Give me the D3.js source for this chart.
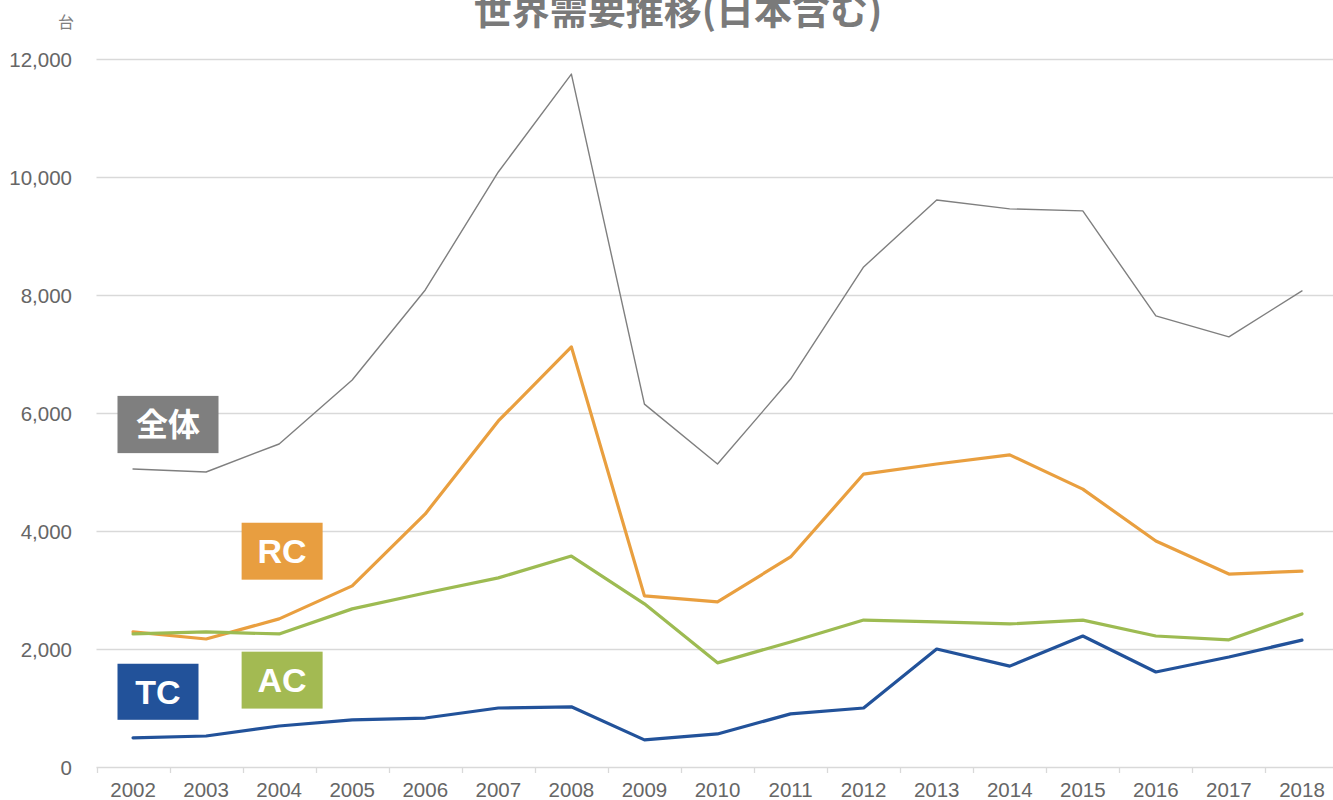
<!DOCTYPE html>
<html>
<head>
<meta charset="utf-8">
<script src="https://cdn.jsdelivr.net/npm/d3@7"></script>
<style>
  html, body { margin: 0; padding: 0; background: #fff; overflow: hidden; }
  svg { display: block; }
</style>
</head>
<body>
<svg id="chart" width="1333" height="800"></svg>
<script>
// ---- data ----
const years = ["2002","2003","2004","2005","2006","2007","2008","2009","2010","2011","2012","2013","2014","2015","2016","2017","2018"];
const totalValues = [5050, 5000, 5475, 6560, 8085, 10085, 11745, 6150, 5135, 6575, 8475, 9610, 9460, 9425, 7645, 7290, 8070];
const rcValues    = [2290, 2170, 2510, 3070, 4290, 5865, 7120, 2900, 2800, 3560, 4965, 5135, 5290, 4710, 3830, 3270, 3320];
const acValues    = [2255, 2290, 2255, 2680, 2950, 3205, 3575, 2765, 1765, 2120, 2490, 2460, 2425, 2490, 2220, 2155, 2595];
const tcValues    = [495, 525, 695, 800, 830, 1000, 1020, 460, 560, 900, 1000, 2000, 1710, 2220, 1610, 1865, 2150];
const yTicks = [0, 2000, 4000, 6000, 8000, 10000, 12000];
const titleText = "世界需要推移(日本含む)";
const unitText = "台";

const series = [
  { name: "全体", values: totalValues, color: "#7f7f7f", width: 1.4 },
  { name: "RC",   values: rcValues,    color: "#E99F3F", width: 3.2 },
  { name: "AC",   values: acValues,    color: "#9DBB52", width: 3.2 },
  { name: "TC",   values: tcValues,    color: "#22529A", width: 3.2 }
];
// annotation boxes: anchored in data space (year, value range)
const labels = [
  { text: "全体", color: "#7f7f7f", year: "2002", dx: 21, w: 101, top: 6290, bottom: 5320 },
  { text: "RC",   color: "#E89E40", year: "2004", dx: -1, w: 81,  top: 4140, bottom: 3175 },
  { text: "AC",   color: "#A3BA52", year: "2004", dx: -1, w: 81,  top: 1955, bottom: 990 },
  { text: "TC",   color: "#22529A", year: "2002", dx: 21, w: 81,  top: 1750, bottom: 800 }
];

// ---- layout ----
const svg = d3.select("#chart");
const plotLeft = 96.5, plotRight = 1338.5, plotTop = 59, plotBottom = 767;

const x = d3.scaleBand().domain(years).range([plotLeft, plotRight]).padding(0);
const y = d3.scaleLinear().domain([0, 12000]).range([plotBottom, plotTop]);
const cx = d => x(d) + x.bandwidth() / 2;

const fontLatin = "'Liberation Sans', Arial, 'Noto Sans CJK JP', sans-serif";
const fontCJK = "'Noto Sans CJK JP', 'Liberation Sans', sans-serif";

// gridlines
svg.append("g")
  .selectAll("line")
  .data(yTicks.filter(t => t > 0))
  .join("line")
  .attr("x1", plotLeft).attr("x2", plotRight)
  .attr("y1", d => Math.round(y(d)) + 0.5).attr("y2", d => Math.round(y(d)) + 0.5)
  .attr("stroke", "#d9d9d9").attr("stroke-width", 1.3);

// y axis labels
const yAxis = d3.axisLeft(y).tickValues(yTicks).tickSize(0).tickPadding(0)
  .tickFormat(d3.format(","));
const yg = svg.append("g").attr("transform", `translate(${72},0)`).call(yAxis);
yg.select(".domain").remove();
yg.selectAll("text")
  .attr("font-family", fontLatin).attr("font-size", 20.5)
  .attr("fill", "#666666").attr("dy", "0.35em");

// x axis
const xAxis = d3.axisBottom(x).tickSize(0).tickPadding(0);
const xg = svg.append("g").attr("transform", `translate(0,${plotBottom})`).call(xAxis);
xg.select(".domain").attr("stroke", "#d9d9d9").attr("stroke-width", 1.5)
  .attr("d", `M${plotLeft},0.5H${plotRight}`);
xg.selectAll(".tick line").remove();
xg.selectAll("text")
  .attr("font-family", fontLatin).attr("font-size", 20.5)
  .attr("fill", "#666666").attr("y", 29.5).attr("dy", 0);
// boundary tick marks
xg.append("g").selectAll("line")
  .data(years.concat(["__end"]))
  .join("line")
  .attr("x1", (d, i) => Math.round(plotLeft + i * x.step()) + 0.5)
  .attr("x2", (d, i) => Math.round(plotLeft + i * x.step()) + 0.5)
  .attr("y1", 0).attr("y2", 6)
  .attr("stroke", "#d9d9d9").attr("stroke-width", 1.3);

// lines
const line = d3.line().x((d, i) => cx(years[i])).y(d => y(d));
svg.append("g").selectAll("path")
  .data(series)
  .join("path")
  .attr("d", s => line(s.values))
  .attr("fill", "none")
  .attr("stroke", s => s.color)
  .attr("stroke-width", s => s.width)
  .attr("stroke-linejoin", "round")
  .attr("stroke-linecap", "round");

// label boxes
const lg = svg.append("g").selectAll("g").data(labels).join("g");
lg.append("rect")
  .attr("x", d => x(d.year) + d.dx)
  .attr("y", d => y(d.top))
  .attr("width", d => d.w)
  .attr("height", d => y(d.bottom) - y(d.top))
  .attr("fill", d => d.color);
lg.append("text")
  .attr("x", d => x(d.year) + d.dx + d.w / 2)
  .attr("y", d => (y(d.top) + y(d.bottom)) / 2)
  .attr("dy", "0.36em")
  .attr("text-anchor", "middle")
  .attr("font-family", d => /[A-Z]/.test(d.text) ? fontLatin : fontCJK)
  .attr("font-weight", "bold")
  .attr("font-size", d => /[A-Z]/.test(d.text) ? 34 : 32)
  .attr("fill", "#fff")
  .text(d => d.text);

// title (clipped at top like the reference)
svg.append("text")
  .attr("x", 678).attr("y", 24)
  .attr("text-anchor", "middle")
  .attr("font-family", fontCJK)
  .attr("font-weight", "bold")
  .attr("font-size", 38)
  .attr("fill", "#7a7a7a")
  .text(titleText);

// unit
svg.append("text")
  .attr("x", 66).attr("y", 28)
  .attr("text-anchor", "middle")
  .attr("font-family", fontCJK)
  .attr("font-size", 16)
  .attr("fill", "#7f7f7f")
  .text(unitText);
</script>
</body>
</html>
